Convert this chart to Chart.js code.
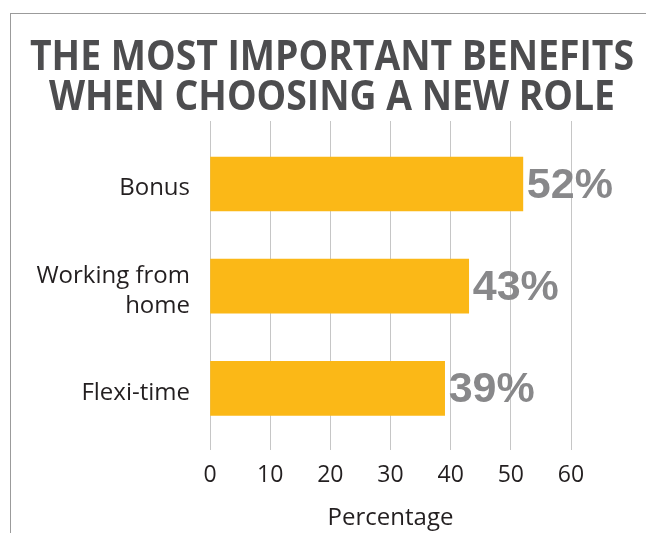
<!DOCTYPE html>
<html lang="en">
<head>
    <meta charset="UTF-8">
    <title>The Most Important Benefits</title>
    <script src="https://cdn.jsdelivr.net/npm/chart.js"></script>
    <style>
        body {
            margin: 0;
            background: #fff;
        }
        .wrap {
            position: relative;
            width: 647px;
            height: 533px;
        }
        .frame {
            position: absolute;
            left: 10px;
            top: 13px;
            right: 1px;
            bottom: 0;
            border-top: 1px solid #9b9b9b;
            border-left: 1px solid #9b9b9b;
        }
        canvas {
            position: absolute;
            left: 0;
            top: 0;
        }
    </style>
</head>
<body>
<div class="wrap">
    <div class="frame"></div>
    <canvas id="benefitsChart" width="647" height="533"></canvas>
</div>
<script>
    const titleLines = ['THE MOST IMPORTANT BENEFITS', 'WHEN CHOOSING A NEW ROLE'];
    const categories = ['Bonus', ['Working from', 'home'], 'Flexi-time'];
    const values = [52, 43, 39];
    const xTicks = [0, 10, 20, 30, 40, 50, 60];

    // heading, centred on the whole card; squeezed sideways so the
    // long first line fits the card like a condensed face would
    const heading = {
        id: 'heading',
        afterDraw(chart) {
            const ctx = chart.ctx;
            ctx.save();
            ctx.font = 'bold 42px "Open Sans", sans-serif';
            ctx.fillStyle = '#4d4d4f';
            ctx.textAlign = 'center';
            ctx.textBaseline = 'middle';
            const squeeze = Math.min(1, 604 / ctx.measureText(titleLines[0]).width);
            ctx.translate(332, 0);
            ctx.scale(squeeze, 1);
            titleLines.forEach((line, i) => {
                ctx.fillText(line, 0, 58 + i * 40);
            });
            ctx.restore();
        }
    };

    // percentage printed just past the end of each bar
    const valueLabels = {
        id: 'valueLabels',
        afterDatasetsDraw(chart) {
            const ctx = chart.ctx;
            const meta = chart.getDatasetMeta(0);
            ctx.save();
            ctx.font = 'bold 43px "Liberation Sans", Arial, sans-serif';
            ctx.fillStyle = '#88888a';
            ctx.textAlign = 'left';
            ctx.textBaseline = 'middle';
            meta.data.forEach((bar, i) => {
                ctx.fillText(values[i] + '%', bar.x + 4, bar.y + 2);
            });
            ctx.restore();
        }
    };

    const ctx = document.getElementById('benefitsChart').getContext('2d');
    const chart = new Chart(ctx, {
        type: 'bar',
        data: {
            datasets: [{
                data: values.map((v, i) => ({ x: v, y: i })),
                backgroundColor: '#fbb817',
                borderWidth: 0,
                barThickness: 54
            }]
        },
        options: {
            indexAxis: 'y',
            responsive: false,
            animation: false,
            layout: {
                padding: { left: 0, right: 76, top: 121, bottom: 0 }
            },
            plugins: {
                legend: { display: false },
                tooltip: { enabled: false },
                title: { display: false }
            },
            scales: {
                x: {
                    type: 'linear',
                    min: 0,
                    max: 60,
                    afterBuildTicks: (scale) => {
                        scale.ticks = xTicks.map(v => ({ value: v }));
                    },
                    grid: { color: '#c6c6c6', lineWidth: 1, drawTicks: false },
                    border: { display: false },
                    ticks: {
                        color: '#231f20',
                        padding: 12,
                        font: { family: '"Open Sans", sans-serif', size: 23 }
                    },
                    title: {
                        display: true,
                        text: 'Percentage',
                        color: '#231f20',
                        font: { family: '"Open Sans", sans-serif', size: 24 },
                        padding: { top: 2, bottom: 0 }
                    },
                    afterFit: (scale) => { scale.height = 83; }
                },
                y: {
                    type: 'linear',
                    reverse: true,
                    offset: false,
                    bounds: 'data',
                    min: -0.616,
                    max: 2.603,
                    // category names sit a touch below the bar centres
                    afterBuildTicks: (scale) => {
                        scale.ticks = categories.map((c, i) => ({ value: i + 0.045 }));
                    },
                    grid: { display: false, drawTicks: false, offset: false },
                    border: { display: false },
                    ticks: {
                        color: '#231f20',
                        padding: 20,
                        font: { family: '"Open Sans", sans-serif', size: 24, lineHeight: 1.25 },
                        callback: (v) => categories[Math.round(v)]
                    },
                    afterFit: (scale) => { scale.width = 210; }
                }
            }
        },
        plugins: [valueLabels, heading]
    });
</script>
</body>
</html>
